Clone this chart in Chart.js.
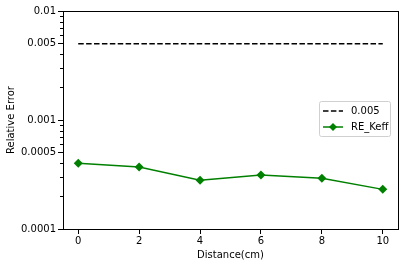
<!DOCTYPE html>
<html>
<head>
<meta charset="utf-8">
<script src="https://cdn.jsdelivr.net/npm/chart.js@4.4.0/dist/chart.umd.min.js"></script>
<style>
  html, body { margin: 0; padding: 0; background: #fff; }
  #wrap { width: 404px; height: 266px; }
</style>
</head>
<body>
<div id="wrap"><canvas id="chart" width="404" height="266"></canvas></div>
<script>
// 数据
const distances = [0, 2, 4, 6, 8, 10];
const refLevel = [0.005, 0.005, 0.005, 0.005, 0.005, 0.005];
const reKeff = [0.000401, 0.000371, 0.00028, 0.000313, 0.000292, 0.000231];
const yMajorTicks = [0.0001, 0.0005, 0.001, 0.005, 0.01];
const yMinorTicks = [0.0002, 0.0003, 0.0004, 0.0006, 0.0007, 0.0008, 0.0009,
                     0.002, 0.003, 0.004, 0.006, 0.007, 0.008, 0.009];
const xTicks = [0, 2, 4, 6, 8, 10];

const FONT = "'DejaVu Sans', sans-serif";

// 画边框、次刻度和图例
const framePlugin = {
  id: 'frame',
  afterDraw(chart) {
    const { ctx, chartArea: a, scales } = chart;
    ctx.save();
    ctx.strokeStyle = '#000';
    ctx.lineWidth = 1;
    ctx.strokeRect(a.left + 0.5, a.top + 0.5, a.right - a.left, a.bottom - a.top);

    // 次刻度
    yMinorTicks.forEach(v => {
      const y = Math.round(scales.y.getPixelForValue(v)) + 0.5;
      ctx.beginPath();
      ctx.moveTo(a.left - 3, y);
      ctx.lineTo(a.left, y);
      ctx.stroke();
    });

    // 图例
    const lx = 319, ly = 101, lw = 71, lh = 35;
    ctx.fillStyle = 'rgba(255,255,255,0.8)';
    ctx.strokeStyle = '#d0d0d0';
    ctx.beginPath();
    ctx.roundRect(lx + 0.5, ly + 0.5, lw, lh, 2);
    ctx.fill();
    ctx.stroke();

    ctx.font = '10px ' + FONT;
    ctx.textBaseline = 'middle';
    ctx.fillStyle = '#000';

    ctx.strokeStyle = '#000';
    ctx.lineWidth = 1.5;
    ctx.setLineDash([5.5, 2.4]);
    ctx.beginPath();
    ctx.moveTo(323, ly + 10);
    ctx.lineTo(343, ly + 10);
    ctx.stroke();
    ctx.setLineDash([]);
    ctx.fillText('0.005', 351, ly + 10);

    ctx.strokeStyle = '#008000';
    ctx.beginPath();
    ctx.moveTo(323, ly + 26);
    ctx.lineTo(343, ly + 26);
    ctx.stroke();
    ctx.fillStyle = '#008000';
    ctx.beginPath();
    ctx.moveTo(333, ly + 22);
    ctx.lineTo(337, ly + 26);
    ctx.lineTo(333, ly + 30);
    ctx.lineTo(329, ly + 26);
    ctx.closePath();
    ctx.fill();
    ctx.fillStyle = '#000';
    ctx.fillText('RE_Keff', 351, ly + 26);
    ctx.restore();
  }
};

new Chart(document.getElementById('chart'), {
  type: 'line',
  data: {
    labels: distances,
    datasets: [
      {
        label: '0.005',
        data: distances.map((d, i) => ({ x: d, y: refLevel[i] })),
        borderColor: '#000',
        borderWidth: 1.5,
        borderDash: [5.5, 2.4],
        pointRadius: 0,
        fill: false
      },
      {
        label: 'RE_Keff',
        data: distances.map((d, i) => ({ x: d, y: reKeff[i] })),
        borderColor: '#008000',
        backgroundColor: '#008000',
        borderWidth: 1.5,
        pointStyle: 'rectRot',
        pointRadius: 4.5,
        pointBorderWidth: 0,
        fill: false
      }
    ]
  },
  options: {
    responsive: false,
    animation: false,
    layout: { padding: { left: 0, right: 6, top: 11, bottom: 0 } },
    plugins: {
      legend: { display: false },
      tooltip: { enabled: false }
    },
    scales: {
      x: {
        type: 'linear',
        min: -0.5,
        max: 10.5,
        afterBuildTicks: s => { s.ticks = xTicks.map(v => ({ value: v })); },
        afterFit: s => { s.height = 37; },
        grid: { drawOnChartArea: false, tickLength: 5, color: '#000' },
        border: { color: '#000' },
        ticks: { color: '#000', font: { family: FONT, size: 10 }, padding: 1, maxRotation: 0 },
        title: { display: true, text: 'Distance(cm)', color: '#000', font: { family: FONT, size: 10 }, padding: { top: 0, bottom: 5 } }
      },
      y: {
        type: 'logarithmic',
        min: 0.0001,
        max: 0.01,
        afterBuildTicks: s => { s.ticks = yMajorTicks.map(v => ({ value: v })); },
        afterFit: s => { s.width = 63; },
        grid: { drawOnChartArea: false, tickLength: 5, color: '#000' },
        border: { color: '#000' },
        ticks: {
          color: '#000',
          font: { family: FONT, size: 10 },
          padding: 2,
          callback: v => String(v)
        },
        title: { display: true, text: 'Relative Error', color: '#000', font: { family: FONT, size: 10 }, padding: { top: 5, bottom: 4 } }
      }
    }
  },
  plugins: [framePlugin]
});
</script>
</body>
</html>
